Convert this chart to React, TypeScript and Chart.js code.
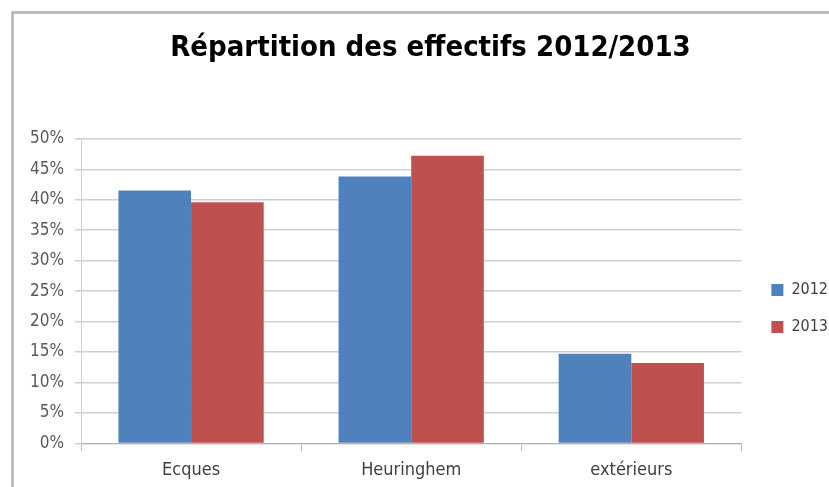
import React, { useEffect, useRef } from "react";
import { Chart, registerables } from "chart.js";

Chart.register(...registerables);

const categories = ["Ecques", "Heuringhem", "extérieurs"];
const series2012 = [41.5, 43.8, 14.7];
const series2013 = [39.6, 47.2, 13.2];
const seriesLabels = ["2012", "2013"];
const titleText = "Répartition des effectifs 2012/2013";

const FONT = "'DejaVu Sans Condensed', 'Liberation Sans', sans-serif";
const LEGEND_SHIFT = 9;
const TITLE_SHIFT = 6;

const framePlugin = {
  id: "frame",
  beforeDraw(chart: any) {
    const ctx = chart.ctx;
    ctx.save();
    ctx.fillStyle = "#ffffff";
    ctx.fillRect(0, 0, chart.width, chart.height);
    ctx.strokeStyle = "#b3b3b3";
    ctx.lineWidth = 2.5;
    ctx.beginPath();
    ctx.moveTo(12.5, chart.height);
    ctx.lineTo(12.5, 12.5);
    ctx.lineTo(chart.width, 12.5);
    ctx.stroke();
    ctx.restore();
  },
};

const shiftPlugin = {
  id: "shiftBlocks",
  afterLayout(chart: any) {
    const lg = chart.legend;
    if (lg) {
      lg.left += LEGEND_SHIFT;
      lg.right += LEGEND_SHIFT;
    }
    const tb = chart.titleBlock;
    if (tb) {
      tb.left += TITLE_SHIFT;
      tb.right += TITLE_SHIFT;
    }
  },
};

export default function App() {
  const ref = useRef<HTMLCanvasElement | null>(null);
  useEffect(() => {
    if (!ref.current) return;
    const chart = new Chart(ref.current, {
      type: "bar",
      data: {
        labels: categories,
        datasets: [
          { label: seriesLabels[0], data: series2012, backgroundColor: "#4F81BD", borderWidth: 0 },
          { label: seriesLabels[1], data: series2013, backgroundColor: "#C0504D", borderWidth: 0 },
        ],
      },
      options: {
        animation: false,
        responsive: false,
        maintainAspectRatio: false,
        layout: { padding: { left: 20, right: 0, top: 0, bottom: -2 } },
        datasets: { bar: { categoryPercentage: 0.66, barPercentage: 1 } },
        plugins: {
          title: {
            display: true,
            text: titleText,
            color: "#000000",
            font: { family: FONT, size: 29, weight: "bold" },
            padding: { top: 31, bottom: 73 },
          },
          legend: {
            position: "right",
            align: "center",
            title: { display: true, text: " ", font: { size: 10 }, padding: { top: 116, bottom: 0 } },
            labels: {
              boxWidth: 12,
              boxHeight: 12,
              padding: 21,
              color: "#404040",
              font: { family: FONT, size: 16 },
            },
          },
          tooltip: { enabled: false },
        },
        scales: {
          x: {
            grid: { display: true, drawOnChartArea: false, tickLength: 8, color: "#c0c0c0", offset: true },
            border: { display: true, color: "#b0b0b0" },
            ticks: { color: "#404040", padding: 8, font: { family: FONT, size: 18 } },
          },
          y: {
            min: 0,
            max: 50,
            afterFit: (s: any) => { s.width = 61; },
            ticks: {
              stepSize: 5,
              color: "#595959",
              padding: 11,
              font: { family: FONT, size: 17 },
              callback: (v: any) => v + "%",
            },
            grid: { color: "#d0d0d0", lineWidth: 1.5, tickLength: 6 },
            border: { display: true, color: "#d0d0d0" },
          },
        },
      },
      plugins: [framePlugin, shiftPlugin],
    });
    return () => chart.destroy();
  }, []);
  return (
    <div style={{ position: "absolute", left: 0, top: 0, width: 829, height: 487, background: "#fff" }}>
      <canvas ref={ref} width={829} height={487} style={{ display: "block" }} />
    </div>
  );
}
